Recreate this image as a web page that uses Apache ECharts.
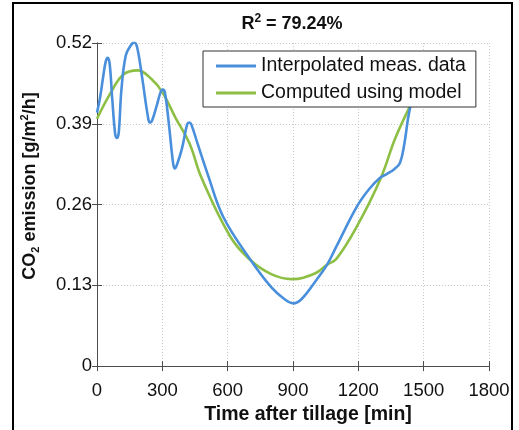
<!DOCTYPE html>
<html><head><meta charset="utf-8">
<script src="https://cdn.jsdelivr.net/npm/echarts@6/dist/echarts.min.js"></script>
<style>html,body{margin:0;padding:0;background:#fff;}#c{width:519px;height:430px;}</style>
</head><body><div id="c"></div>
<script>
// Interpolated measured data (time [min], CO2 emission [g/m2/h])
var measTime = [0, 14, 28, 40, 49, 58, 70, 84, 92, 100, 112, 132, 155, 171, 185, 207, 236, 245, 254, 275, 292, 302, 312, 330, 350, 358, 366, 390, 414, 424, 434, 460, 510, 580, 703, 800, 860, 901, 940, 1000, 1056, 1100, 1192, 1250, 1300, 1330, 1365, 1391, 1410, 1428, 1440];
var measVal  = [0.408, 0.432, 0.465, 0.490, 0.496, 0.487, 0.43, 0.372, 0.367, 0.376, 0.444, 0.500, 0.516, 0.521, 0.512, 0.465, 0.397, 0.392, 0.396, 0.42, 0.441, 0.445, 0.440, 0.39, 0.325, 0.318, 0.323, 0.35, 0.389, 0.392, 0.388, 0.36, 0.307, 0.240, 0.172, 0.127, 0.108, 0.101, 0.108, 0.135, 0.163, 0.193, 0.256, 0.285, 0.303, 0.309, 0.317, 0.327, 0.355, 0.398, 0.42];
// Computed using model
var modelTime = [0, 60, 120, 187, 250, 300, 360, 424, 480, 611, 700, 800, 894, 1000, 1056, 1100, 1192, 1300, 1370, 1440];
var modelVal  = [0.398, 0.438, 0.469, 0.476, 0.462, 0.441, 0.40, 0.359, 0.303, 0.209, 0.172, 0.148, 0.140, 0.149, 0.163, 0.173, 0.224, 0.300, 0.367, 0.42];
var xTicks = {min: 0, max: 1800, step: 300};
var yTicks = {min: 0, max: 0.52, step: 0.13};
var seriesNames = ['Interpolated meas. data', 'Computed using model'];

function pairs(t, v) { return t.map(function (x, i) { return [x, v[i]]; }); }
var FF = 'Liberation Sans, Arial, Helvetica, sans-serif';
var chart = echarts.init(document.getElementById('c'));
var boxColor = '#4d4d4d';
function tick() { return {show: true, inside: true, length: 5, lineStyle: {color: boxColor, width: 1}}; }
chart.setOption({
  animation: false,
  backgroundColor: '#fff',
  grid: {left: 97, right: 30, top: 43, bottom: 58},
  title: {
    text: 'R{sup|2} = 79.24%', left: 287, top: 8, textAlign: 'center',
    textStyle: {fontFamily: FF, fontSize: 18, fontWeight: 'bold', color: '#111', lineHeight: 22,
      rich: {sup: {fontFamily: FF, fontSize: 12, fontWeight: 'bold', color: '#111', verticalAlign: 'top', lineHeight: 22}}}
  },
  legend: {
    orient: 'vertical', left: 203, top: 51,
    padding: [4, 10, 3, 13], itemGap: 5,
    itemWidth: 40, itemHeight: 3, icon: 'rect',
    backgroundColor: '#fff', borderColor: '#333', borderWidth: 1,
    textStyle: {fontFamily: FF, fontSize: 19.5, color: '#111', padding: [0, 0, 0, 0], lineHeight: 22},
    data: seriesNames
  },
  xAxis: [{
    type: 'value', min: xTicks.min, max: xTicks.max, interval: xTicks.step,
    name: 'Time after tillage [min]', nameLocation: 'middle', nameGap: 38,
    nameTextStyle: {fontFamily: FF, fontSize: 19.5, fontWeight: 'bold', color: '#111', padding: [0, 0, 0, 30]},
    axisLine: {show: true, lineStyle: {color: boxColor, width: 1}},
    axisTick: tick(),
    axisLabel: {fontFamily: FF, fontSize: 18.5, color: '#111', margin: 15,
      formatter: function (v) { return String(v); }},
    splitLine: {show: true, lineStyle: {color: '#c8c8c8', type: [1, 2], width: 1}}
  }, {
    type: 'value', position: 'top', min: xTicks.min, max: xTicks.max, interval: xTicks.step,
    axisLine: {show: true, lineStyle: {color: boxColor, width: 1}},
    axisTick: tick(),
    axisLabel: {show: false}, splitLine: {show: false}
  }],
  yAxis: [{
    type: 'value', min: yTicks.min, max: yTicks.max, interval: yTicks.step,
    axisLine: {show: true, lineStyle: {color: boxColor, width: 1}},
    axisTick: tick(),
    axisLabel: {fontFamily: FF, fontSize: 18.5, color: '#111', margin: 5,
      formatter: function (v) { return v === 0 ? '0' : (+v.toFixed(2)).toString(); }},
    splitLine: {show: true, lineStyle: {color: '#c8c8c8', type: [1, 2], width: 1}}
  }, {
    type: 'value', position: 'right', min: yTicks.min, max: yTicks.max, interval: yTicks.step,
    axisLine: {show: true, lineStyle: {color: boxColor, width: 1}},
    axisTick: tick(),
    axisLabel: {show: false}, splitLine: {show: false}
  }],
  graphic: [
    {type: 'rect', shape: {x: 13, y: 3, width: 499, height: 440}, style: {fill: 'none', stroke: '#000', lineWidth: 2}, silent: true},
    {type: 'text', x: 30, y: 186, rotation: Math.PI / 2, silent: true,
      style: {text: 'CO{sub|2} emission [g/m{sup|2}/h]', align: 'center', verticalAlign: 'middle',
        font: 'bold 18px ' + FF, fill: '#111', lineHeight: 22,
        rich: {
          sub: {font: 'bold 11px ' + FF, fill: '#111', verticalAlign: 'bottom', lineHeight: 22},
          sup: {font: 'bold 11px ' + FF, fill: '#111', verticalAlign: 'top', lineHeight: 22}
        }}}
  ],
  series: [{
    name: seriesNames[0], type: 'line', smooth: 0.4, showSymbol: false, symbol: 'none',
    lineStyle: {color: '#4a8fdb', width: 2.6}, itemStyle: {color: '#4a8fdb'},
    data: pairs(measTime, measVal), z: 3
  }, {
    name: seriesNames[1], type: 'line', smooth: 0.4, showSymbol: false, symbol: 'none',
    lineStyle: {color: '#8dbf45', width: 2.6}, itemStyle: {color: '#8dbf45'},
    data: pairs(modelTime, modelVal), z: 2
  }]
});
</script></body></html>
